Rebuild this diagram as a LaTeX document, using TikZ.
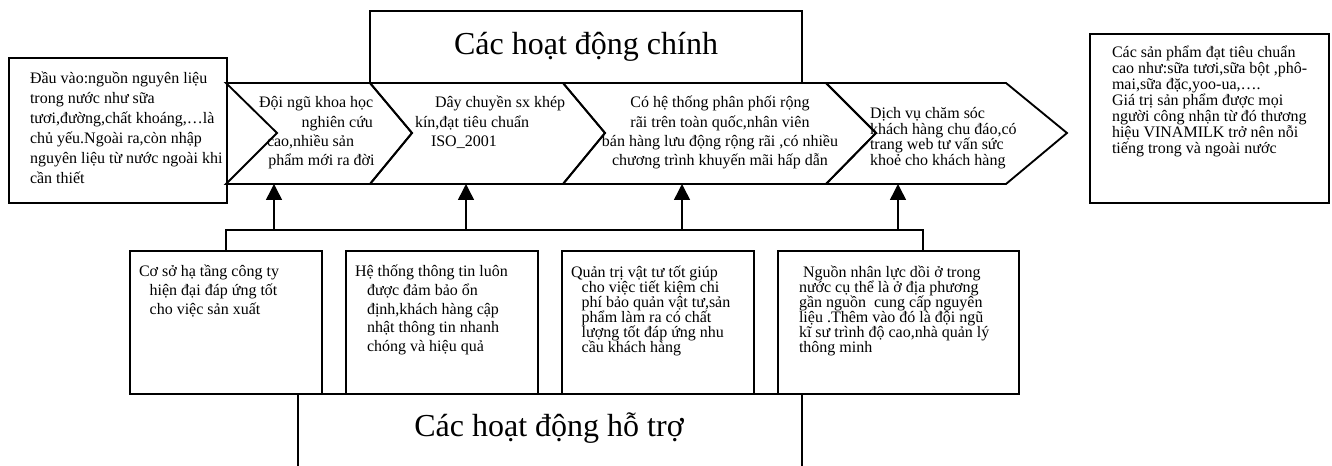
\documentclass[tikz,border=0pt]{standalone}
\usepackage{fontspec}
\setmainfont{Liberation Serif}
\usetikzlibrary{arrows.meta,fit}
\newcommand\tblock[3]{\fontsize{#1}{#2}\selectfont\lineskiplimit=-\maxdimen\lineskip=0pt\vtop{\halign{##\hfil\cr#3\crcr}}}
\newcommand\cblock[3]{\fontsize{#1}{#2}\selectfont\lineskiplimit=-\maxdimen\lineskip=0pt\vtop{\halign{\hfil##\hfil\cr#3\crcr}}}
\tikzset{
  box/.style={draw, line width=1.4pt, rectangle, inner sep=0pt, outer sep=0pt},
  outline/.style={line width=1.4pt, line join=miter},
  conn/.style={line width=1.1pt},
  arr/.style={line width=1.1pt, -{Triangle[width=12pt,length=12pt]}},
  txt/.style={inner sep=0pt, outer sep=0pt, anchor=base west},
  ctxt/.style={inner sep=0pt, outer sep=0pt, anchor=base},
}
\begin{document}
\begin{tikzpicture}[x=0.75pt,y=-0.75pt]
\useasboundingbox (0,0) rectangle (1332,466);
\fill[white] (0,0) rectangle (1332,466);

% boxes
\node[box, fit={(9,58) (227,203)}] (L) {};
\node[box, fit={(370,11) (802,83)}] (T) {};
\node[box, fit={(1090,34) (1329,203)}] (R) {};
\node[box, fit={(130,251) (322,394)}] (b1) {};
\node[box, fit={(346,251) (538,394)}] (b2) {};
\node[box, fit={(562,251) (754,394)}] (b3) {};
\node[box, fit={(778,251) (1019,394)}] (b4) {};

% chevrons
\draw[outline] (226,83) -- (370,83) -- (412,133) -- (370,184) -- (226,184) -- (277,133) -- cycle;
\draw[outline] (370,83) -- (563,83) -- (605,133) -- (563,184) -- (370,184) -- (412,133) -- cycle;
\draw[outline] (563,83) -- (826,83) -- (876,133) -- (826,184) -- (563,184) -- (605,133) -- cycle;
\draw[outline] (826,83) -- (1006,83) -- (1067,133) -- (1006,184) -- (826,184) -- (876,133) -- cycle;
\coordinate (c1) at (274,184);
\coordinate (c2) at (466,184);
\coordinate (c3) at (682,184);
\coordinate (c4) at (898,184);

% support box
\draw[outline] (298,470) -- (298,394) -- (802,394) -- (802,470);

% connectors
\coordinate (busL) at (226,230);
\coordinate (busR) at (923,230);
\draw[conn] (b1.north) -- (busL) -- (busR) -- (busR |- b4.north);
\draw[arr] (c1 |- busL) -- (c1);
\draw[arr] (c2 |- busL) -- (c2);
\draw[arr] (c3 |- busL) -- (c3);
\draw[arr] (c4 |- busL) -- (c4);

% texts
\node[ctxt, font=\fontsize{24}{28}\selectfont] (Tt) at (586,55) {Các hoạt động chính};
\node[ctxt, font=\fontsize{24}{28}\selectfont] (St) at (549,437) {Các hoạt động hỗ trợ};

\node[txt] (Lt) at (30,84) {\tblock{12}{15}{Đầu vào:nguồn nguyên liệu\cr trong nước như sữa\cr tươi,đường,chất khoáng,…là\cr chủ yếu.Ngoài ra,còn nhập\cr nguyên liệu từ nước ngoài khi\cr cần thiết}};

\node[txt] (c1t) at (259,108) {\tblock{12}{14.5}{Đội ngũ khoa học\cr \kern32pt nghiên cứu\cr \kern6pt cao,nhiều sản\cr \kern7pt phẩm mới ra đời}};
\node[txt] (c2t) at (415,108) {\tblock{12}{14.5}{\kern15pt Dây chuyền sx khép\cr kín,đạt tiêu chuẩn\cr \kern12pt ISO\_2001}};
\node[ctxt] (c3t) at (720,108) {\cblock{12}{14.5}{Có hệ thống phân phối rộng\cr rãi trên toàn quốc,nhân viên\cr bán hàng lưu động rộng rãi ,có nhiều\cr chương trình khuyến mãi hấp dẫn}};
\node[txt] (c4t) at (870,119) {\tblock{12}{11.6}{Dịch vụ chăm sóc\cr khách hàng chu đáo,có\cr trang web tư vấn sức\cr khoẻ cho khách hàng}};

\node[txt] (Rt) at (1112,58) {\tblock{12}{12}{Các sản phẩm đạt tiêu chuẩn\cr cao như:sữa tươi,sữa bột ,phô-\cr mai,sữa đặc,yoo-ua,….\cr Giá trị sản phẩm được mọi\cr người công nhận từ đó thương\cr hiệu VINAMILK trở nên nỗi\cr tiếng trong và ngoài nước}};

\node[txt] (b1t) at (139,277) {\tblock{12}{13.9}{Cơ sở hạ tầng công ty\cr \kern8pt hiện đại đáp ứng tốt\cr \kern8pt cho việc sản xuất}};
\node[txt] (b2t) at (355,277) {\tblock{12}{13.9}{Hệ thống thông tin luôn\cr \kern9pt được đảm bảo ổn\cr \kern9pt định,khách hàng cập\cr \kern9pt nhật thông tin nhanh\cr \kern9pt chóng và hiệu quả}};
\node[txt] (b3t) at (571,278) {\tblock{12}{11.25}{Quản trị vật tư tốt giúp\cr \kern8pt cho việc tiết kiệm chi\cr \kern8pt phí bảo quản vật tư,sản\cr \kern8pt phẩm làm ra có chất\cr \kern8pt lượng tốt đáp ứng nhu\cr \kern8pt cầu khách hàng}};
\node[txt] (b4t) at (799,278) {\tblock{12}{11.25}{\kern3pt Nguồn nhân lực dồi ở trong\cr nước cụ thể là ở địa phương\cr gần nguồn\ \ cung cấp nguyên\cr liệu .Thêm vào đó là đội ngũ\cr kĩ sư trình độ cao,nhà quản lý\cr thông minh}};
\end{tikzpicture}
\end{document}
